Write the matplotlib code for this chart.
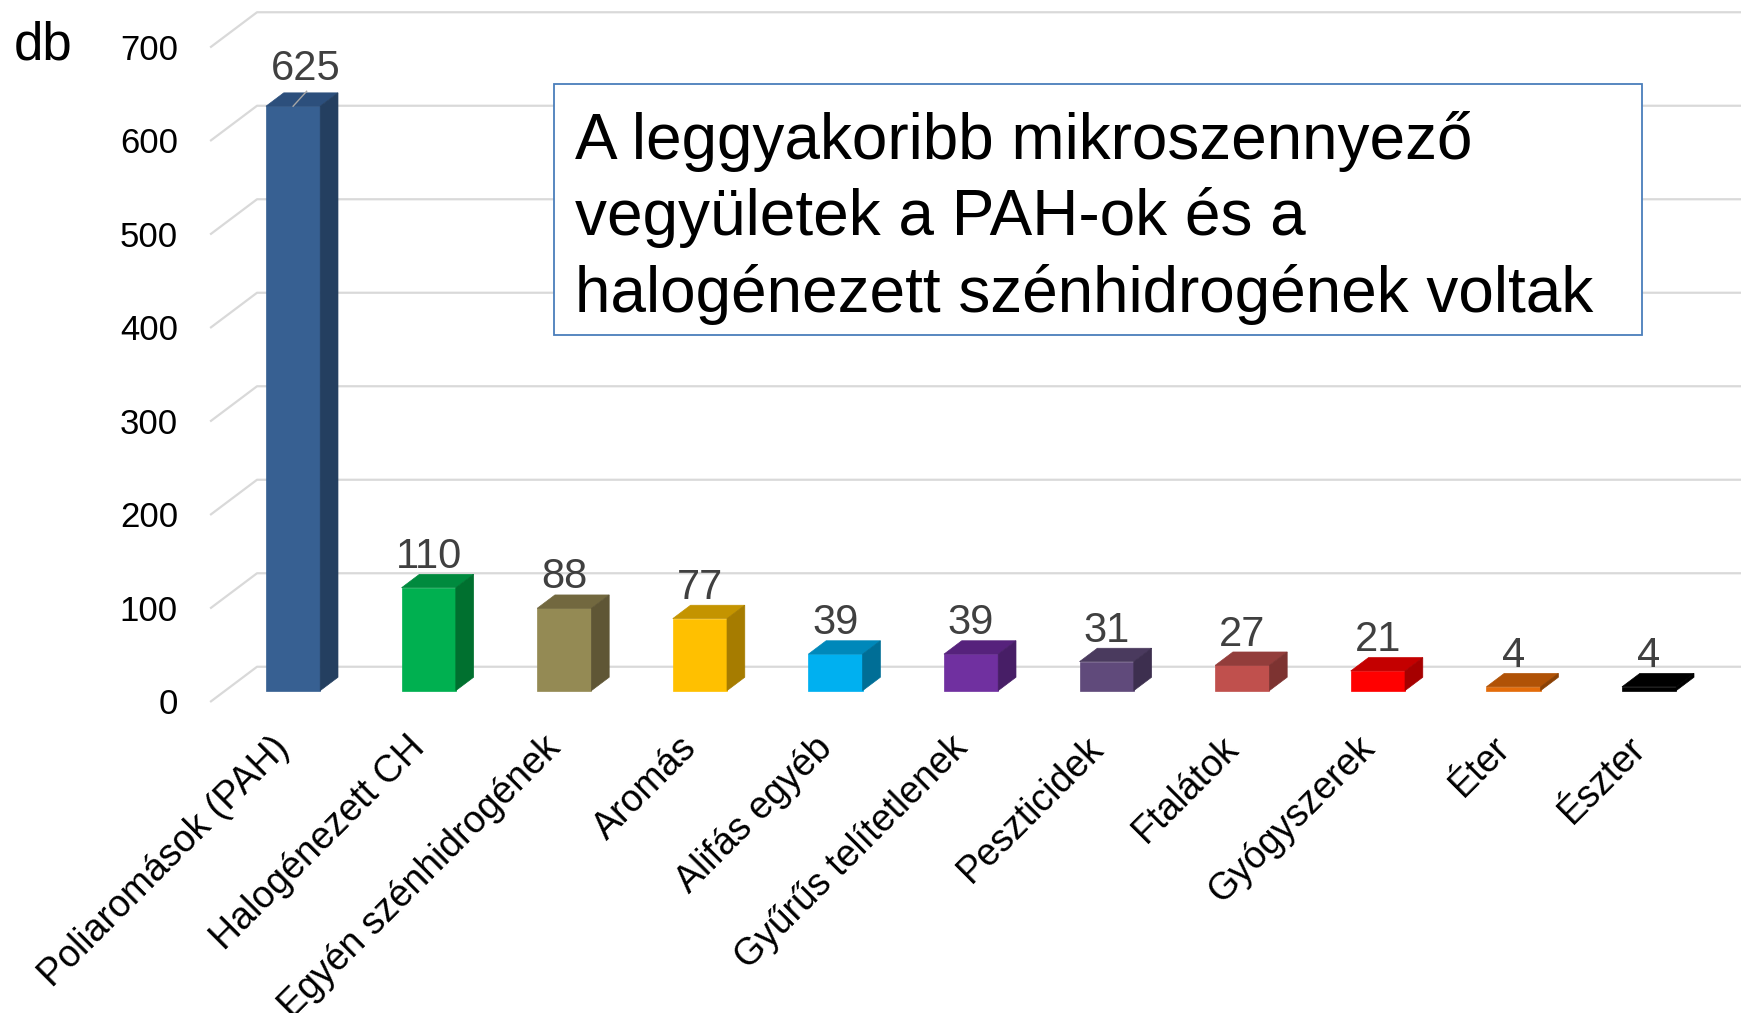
import numpy as np
import matplotlib.pyplot as plt
from matplotlib.patches import Polygon, Rectangle

plt.rcParams['font.family'] = ['Liberation Sans', 'DejaVu Sans']

# data
categories = ['Poliaromások (PAH)', 'Halogénezett CH', 'Egyén szénhidrogének', 'Aromás',
              'Alifás egyéb', 'Gyűrűs telítetlenek', 'Peszticidek', 'Ftalátok',
              'Gyógyszerek', 'Éter', 'Észter']
values = [625, 110, 88, 77, 39, 39, 31, 27, 21, 4, 4]
front_colors = ['#376092', '#00B050', '#948A54', '#FFC000', '#00B0F0', '#7030A0',
                '#604A7B', '#C0504D', '#FF0000', '#E46C0A', '#000000']
top_colors = ['#2C4F7C', '#008A3E', '#72683F', '#C49400', '#0088BA', '#56227C',
              '#4A3A5E', '#933D3B', '#C40000', '#B05206', '#000000']
side_colors = ['#243F60', '#00702F', '#5F5635', '#A67C00', '#006E96', '#471E66',
               '#3D2F4F', '#7D3331', '#A60000', '#8A4105', '#000000']
yticks = [0, 100, 200, 300, 400, 500, 600, 700]
box_lines = ['A leggyakoribb mikroszennyező',
             'vegyületek a PAH-ok és a',
             'halogénezett szénhidrogének voltak']

W, H = 1741, 1013
X0, DXC = 293.1, 135.6   # px of first bar center, px per category
Y0, PPU = 690.6, 0.935   # px of bar bottom, px per unit

fig = plt.figure(figsize=(W / 100, H / 100), dpi=100)
ax = fig.add_axes([0, 0, 1, 1])
ax.set_xlim(-X0 / DXC, (W - X0) / DXC)
ax.set_ylim(-(H - Y0) / PPU, Y0 / PPU)
ax.axis('off')

bw = 0.40          # bar width
ddx, ddy = 0.131, 14.3   # bar depth
back_dy = 25.5     # back wall offset
front_dy = -12.2   # front floor edge offset
back_x, front_x = -0.266, -0.612
grid_c = '#D9D9D9'

# perspective gridlines
for v in yticks:
    ax.plot([front_x, back_x, ax.get_xlim()[1]], [v + front_dy, v + back_dy, v + back_dy],
            color=grid_c, lw=1.6, zorder=1, solid_capstyle='butt')
    ax.text(-0.849, v + front_dy - 3, str(v), ha='right', va='center', fontsize=25, color='black')

# bars
for i, v in enumerate(values):
    l, r = i - bw / 2, i + bw / 2
    ax.add_patch(Rectangle((l, 0), bw, v, facecolor=front_colors[i],
                           edgecolor=front_colors[i], lw=0.5, zorder=3))
    ax.add_patch(Polygon([(l, v), (r, v), (r + ddx, v + ddy), (l + ddx, v + ddy)],
                         closed=True, facecolor=top_colors[i], edgecolor=top_colors[i],
                         lw=0.5, zorder=3))
    ax.add_patch(Polygon([(r, 0), (r + ddx, ddy), (r + ddx, v + ddy), (r, v)],
                         closed=True, facecolor=side_colors[i], edgecolor=side_colors[i],
                         lw=0.5, zorder=3))
    if i == 0:
        ax.plot([i, i + 0.1], [v, v + 16], color='#A6A6A6', lw=1, zorder=4)
        ax.text(i + 0.095, v + 40, str(v), ha='center', va='center', fontsize=30, color='#404040')
    else:
        ax.text(i, v + 33, str(v), ha='center', va='center', fontsize=30, color='#404040')
    ax.text(i - 0.16, -42, categories[i], rotation=45, rotation_mode='anchor',
            ha='right', va='top', fontsize=27, color='black')

fig.text(43 / W, 1 - 46 / H, 'db', ha='center', va='center', fontsize=38, color='black')

# annotation box
bx0, by0, bx1, by1 = 554, 84, 1642, 335
fig.patches.append(Rectangle((bx0 / W, 1 - by1 / H), (bx1 - bx0) / W, (by1 - by0) / H,
                             transform=fig.transFigure, facecolor='white',
                             edgecolor='#4A7EBB', lw=1.3, zorder=5))
for k, line in enumerate(box_lines):
    fig.text(575 / W, 1 - (158.8 + 76.6 * k) / H, line, ha='left', va='baseline',
             fontsize=46, color='black', zorder=6)

fig.savefig('out.png', dpi=100)
